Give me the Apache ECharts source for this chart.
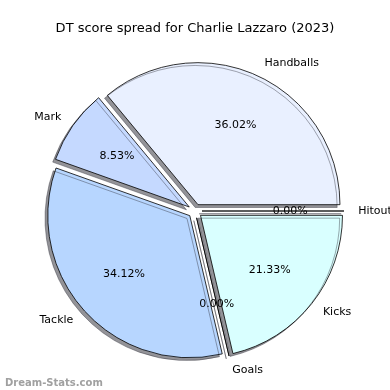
<!DOCTYPE html>
<html>
<head>
<meta charset="utf-8">
<script src="https://cdn.jsdelivr.net/npm/echarts@6/dist/echarts.min.js"></script>
<style>
html,body{margin:0;padding:0;background:#fff;}
#c{width:390px;height:390px;}
</style>
</head>
<body>
<div id="c"></div>
<script>
const categories = ['Hitout', 'Handballs', 'Mark', 'Tackle', 'Goals', 'Kicks'];
const values = [0, 36.02, 8.53, 34.12, 0, 21.33];
const colors = ['#e8ffff', '#e9f0ff', '#c5d9ff', '#b7d6ff', '#c8e8ff', '#d9ffff'];
const titleText = 'DT score spread for Charlie Lazzaro (2023)';
const watermark = 'Dream-Stats.com';

const R = 142;
const OFF = 7;
const FONT = 'DejaVu Sans';

const mainData = categories.map((c, i) => ({
  name: c, value: values[i], selected: true,
  itemStyle: { color: colors[i] }
}));
const pctData = categories.map((c, i) => ({
  name: c, value: values[i], selected: true
}));

const chart = echarts.init(document.getElementById('c'), null, { renderer: 'canvas' });
chart.setOption({
  animation: false,
  backgroundColor: '#fff',
  title: [{
    text: titleText, left: 'center', top: 17,
    textStyle: { fontFamily: FONT, fontSize: 13, fontWeight: 'normal', color: '#000' }
  }, {
    text: watermark, left: 0, top: 373,
    textStyle: { fontFamily: FONT, fontSize: 10, fontWeight: 'bold', color: '#a0a0a0' }
  }],
  series: [{
    type: 'pie',
    center: [195, 211],
    radius: [0, R],
    startAngle: 0,
    clockwise: false,
    selectedMode: 'multiple',
    selectedOffset: OFF,
    avoidLabelOverlap: false,
    silent: true,
    emphasis: { disabled: true },
    itemStyle: {
      borderColor: '#000', borderWidth: 0.8,
      shadowColor: 'rgba(40,40,50,0.5)', shadowBlur: 0,
      shadowOffsetX: -2.8, shadowOffsetY: 2.8
    },
    label: {
      show: true, position: 'outside', formatter: '{b}',
      fontFamily: FONT, fontSize: 11, color: '#000',
      distanceToLabelLine: 0
    },
    labelLine: { show: false, length: R * 0.1, length2: 0 },
    data: mainData
  }, {
    type: 'pie',
    center: [195, 211],
    radius: [R * 0.6 - 1, R * 0.6 + 1],
    startAngle: 0,
    clockwise: false,
    selectedMode: 'multiple',
    selectedOffset: OFF,
    avoidLabelOverlap: false,
    silent: true,
    emphasis: { disabled: true },
    itemStyle: { color: 'rgba(0,0,0,0)', borderWidth: 0 },
    label: {
      show: true, position: 'inside',
      formatter: p => p.percent.toFixed(2) + '%',
      fontFamily: FONT, fontSize: 11, color: '#000',
      textBorderWidth: 0
    },
    labelLine: { show: false },
    data: pctData
  }]
});
</script>
</body>
</html>
